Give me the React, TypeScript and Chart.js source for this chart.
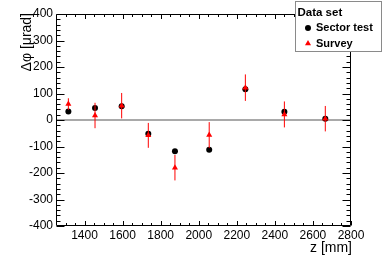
import React, { useEffect, useRef } from "react";
import { Chart, registerables } from "chart.js";

Chart.register(...registerables);

const zPositions = [1315, 1455, 1595, 1735, 1875, 2055, 2245, 2450, 2665];
const sectorTest = [32, 45, 52, -52, -118, -112, 116, 31, 5];
const survey = [60, 17, 54, -58, -180, -57, 122, 21, 5];
const surveyErr = [22, 48, 48, 47, 48, 49, 50, 49, 48];
const xTicks = [1400, 1600, 1800, 2000, 2200, 2400, 2600, 2800];
const yTicks = [-400, -300, -200, -100, 0, 100, 200, 300, 400];
const seriesNames = ["Sector test", "Survey"];
const legendTitle = "Data set";
const xTitle = "z [mm]";
const yTitle = "Δφ [μrad]";

const X_MIN = 1250;
const X_MAX = 2800;
const Y_MIN = -400;
const Y_MAX = 400;

const FONT = '"Liberation Sans", Arial, Helvetica, sans-serif';

function drawTriangle(ctx: CanvasRenderingContext2D, x: number, y: number, r: number) {
  ctx.beginPath();
  let rad = 0;
  ctx.moveTo(x + Math.sin(rad) * r, y - Math.cos(rad) * r);
  rad += (2 * Math.PI) / 3;
  ctx.lineTo(x + Math.sin(rad) * r, y - Math.cos(rad) * r);
  rad += (2 * Math.PI) / 3;
  ctx.lineTo(x + Math.sin(rad) * r, y - Math.cos(rad) * r);
  ctx.closePath();
  ctx.fill();
}

const rootPlugin = {
  id: "rootStyle",
  beforeDatasetsDraw(chart: any) {
    const { ctx, chartArea: a, scales } = chart;
    const y0 = scales.y.getPixelForValue(0);
    ctx.save();
    ctx.strokeStyle = "#8c8c8c";
    ctx.lineWidth = 1.5;
    ctx.beginPath();
    ctx.moveTo(a.left, y0);
    ctx.lineTo(a.right, y0);
    ctx.stroke();
    ctx.restore();
  },
  beforeDatasetDraw(chart: any, args: any) {
    if (args.index !== 1) return;
    const { ctx, scales } = chart;
    ctx.save();
    ctx.strokeStyle = "#ff0000";
    ctx.lineWidth = 1;
    zPositions.forEach((z, i) => {
      const px = scales.x.getPixelForValue(z);
      const top = scales.y.getPixelForValue(survey[i] + surveyErr[i]);
      const bot = scales.y.getPixelForValue(survey[i] - surveyErr[i]);
      ctx.beginPath();
      ctx.moveTo(px, top);
      ctx.lineTo(px, bot);
      ctx.stroke();
    });
    ctx.restore();
  },
  afterDraw(chart: any) {
    const { ctx, chartArea: a, scales } = chart;
    const L = Math.round(a.left) + 0.5;
    const R = Math.round(a.right) - 0.5;
    const T = Math.round(a.top) + 0.5;
    const B = Math.round(a.bottom) - 0.5;
    ctx.save();
    ctx.strokeStyle = "#000";
    ctx.lineWidth = 1;
    ctx.beginPath();
    ctx.rect(L, T, R - L, B - T);
    ctx.stroke();

    // y ticks (left & right)
    ctx.beginPath();
    for (let v = Y_MIN; v <= Y_MAX; v += 20) {
      const py = Math.round(scales.y.getPixelForValue(v)) + 0.5;
      const len = v % 100 === 0 ? 8 : 4;
      ctx.moveTo(L, py);
      ctx.lineTo(L + len, py);
      ctx.moveTo(R, py);
      ctx.lineTo(R - len, py);
    }
    // x ticks (bottom & top)
    for (let v = 1300; v <= X_MAX; v += 50) {
      const px = Math.round(scales.x.getPixelForValue(v)) + 0.5;
      const len = v % 200 === 0 ? 4.5 : 2.5;
      ctx.moveTo(px, B);
      ctx.lineTo(px, B - len);
      ctx.moveTo(px, T);
      ctx.lineTo(px, T + len);
    }
    ctx.stroke();

    // axis titles
    ctx.fillStyle = "#000";
    ctx.font = `14px ${FONT}`;
    ctx.textAlign = "right";
    ctx.textBaseline = "middle";
    ctx.fillText(xTitle, a.right + 1, 248);

    ctx.save();
    ctx.translate(27.5, a.top - 1);
    ctx.rotate(-Math.PI / 2);
    ctx.textAlign = "right";
    ctx.textBaseline = "middle";
    ctx.fillText(yTitle, 0, 0);
    ctx.restore();

    // legend
    ctx.fillStyle = "#fff";
    ctx.fillRect(295, 1, 87, 51);
    ctx.strokeStyle = "#8a8a8a";
    ctx.strokeRect(295.5, 1.5, 86, 50);
    ctx.fillStyle = "#000";
    ctx.font = `bold 11.5px ${FONT}`;
    ctx.textAlign = "left";
    ctx.textBaseline = "middle";
    ctx.fillText(legendTitle, 297.5, 12.5);
    ctx.font = `bold 11px ${FONT}`;
    ctx.fillText(seriesNames[0], 316, 28);
    ctx.fillText(seriesNames[1], 316, 43.5);
    ctx.beginPath();
    ctx.arc(308, 28, 3, 0, Math.PI * 2);
    ctx.fill();
    ctx.fillStyle = "#ff0000";
    drawTriangle(ctx, 308, 43.5, 3.5);
    ctx.restore();
  },
};

export default function App() {
  const ref = useRef<HTMLCanvasElement>(null);

  useEffect(() => {
    const canvas = ref.current;
    if (!canvas) return;
    const chart = new Chart(canvas, {
      type: "scatter",
      data: {
        datasets: [
          {
            label: seriesNames[0],
            data: zPositions.map((z, i) => ({ x: z, y: sectorTest[i] })),
            pointStyle: "circle",
            pointRadius: 3,
            pointHoverRadius: 3,
            backgroundColor: "#000",
            borderColor: "#000",
            borderWidth: 0,
            order: 2,
          },
          {
            label: seriesNames[1],
            data: zPositions.map((z, i) => ({ x: z, y: survey[i] })),
            pointStyle: "triangle",
            pointRadius: 3.5,
            pointHoverRadius: 3.5,
            backgroundColor: "#ff0000",
            borderColor: "#ff0000",
            borderWidth: 0,
            order: 1,
          },
        ],
      },
      options: {
        animation: false,
        responsive: false,
        devicePixelRatio: 1,
        events: [],
        layout: { padding: { top: 14, right: 31, left: 0, bottom: 0 } },
        plugins: {
          legend: { display: false },
          tooltip: { enabled: false },
          title: { display: false },
        },
        scales: {
          x: {
            type: "linear",
            position: "bottom",
            min: X_MIN,
            max: X_MAX,
            grid: { display: false, drawTicks: false },
            border: { display: false },
            afterBuildTicks: (s: any) => {
              s.ticks = xTicks.map((v) => ({ value: v }));
            },
            afterFit: (s: any) => {
              s.height = 37;
            },
            ticks: {
              autoSkip: false,
              maxRotation: 0,
              padding: 2,
              color: "#000",
              font: { family: FONT, size: 12 },
              callback: (v: any) => String(v),
            },
          },
          y: {
            type: "linear",
            position: "left",
            min: Y_MIN,
            max: Y_MAX,
            grid: { display: false, drawTicks: false },
            border: { display: false },
            afterBuildTicks: (s: any) => {
              s.ticks = yTicks.map((v) => ({ value: v }));
            },
            afterFit: (s: any) => {
              s.width = 56;
            },
            ticks: {
              autoSkip: false,
              padding: 3,
              color: "#000",
              font: { family: FONT, size: 12 },
              callback: (v: any) => String(v),
            },
          },
        },
      },
      plugins: [rootPlugin],
    });
    return () => chart.destroy();
  }, []);

  return (
    <div style={{ position: "absolute", left: 0, top: 0, width: 382, height: 263, background: "#fff" }}>
      <canvas ref={ref} width={382} height={263} style={{ display: "block", width: 382, height: 263 }} />
    </div>
  );
}
